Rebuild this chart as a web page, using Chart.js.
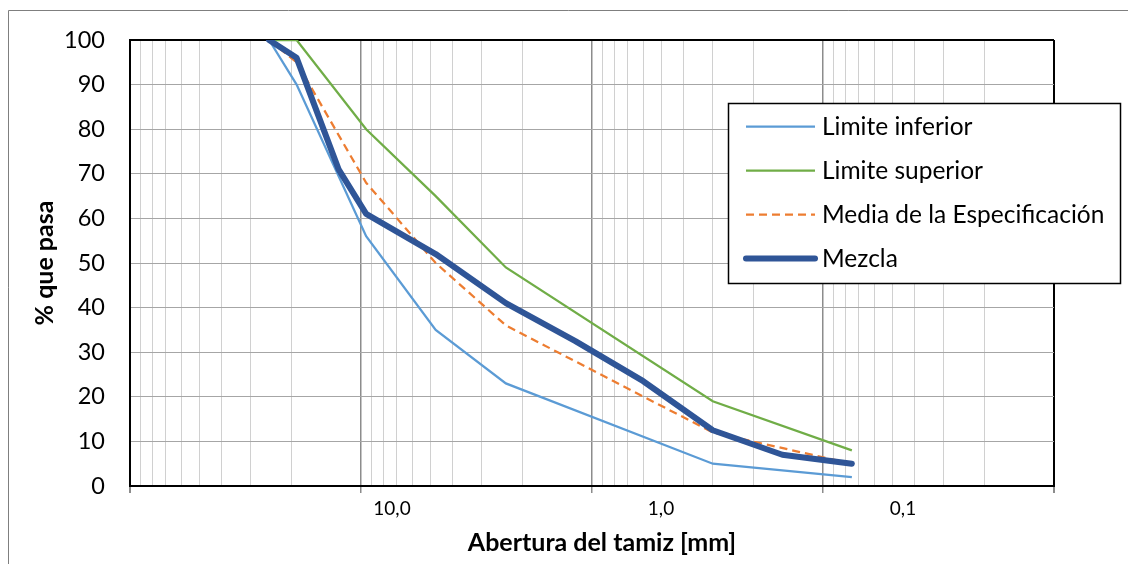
<!DOCTYPE html>
<html lang="es">
<head>
<meta charset="utf-8">
<title>Curva granulométrica</title>
<script src="https://cdn.jsdelivr.net/npm/chart.js@4.4.1/dist/chart.umd.min.js"></script>
<style>
  html, body { margin: 0; padding: 0; background: #fff; }
  canvas { display: block; }
</style>
</head>
<body>
<canvas id="curva" width="1128" height="564"></canvas>
<script>
// Aberturas de tamiz (mm) y porcentaje que pasa de cada serie
const tamices = [25, 19, 12.5, 9.5, 4.75, 2.36, 1.18, 0.6, 0.3, 0.15, 0.075];
const limiteInferior = [100, 90, null, 56, 35, 23, null, null, 5, null, 2];
const limiteSuperior = [100, 100, null, 80, 65, 49, null, null, 19, null, 8];
const mediaEspecificacion = [100, 95, null, 68, 50, 36, null, null, 12, null, 5];
const mezcla = [100, 96, 71, 61, 52, 41, 32.5, 23.5, 12.5, 7, 5];

// Rótulos del eje de aberturas
const valoresRotuloX = [10, 1, 0.1];
const textosRotuloX = ['10,0', '1,0', '0,1'];

// Décadas de la escala logarítmica (rejilla 1..9 por década)
const decadas = [0.01, 0.1, 1, 10];
const pasosDecada = [1, 2, 3, 4, 5, 6, 7, 8, 9];

const FUENTE = "Lato, 'Open Sans', 'Liberation Sans', sans-serif";

const casi = (a, b) => Math.abs(a - b) <= Math.abs(b) * 1e-6;
const esDecada = v => casi(Math.log10(v), Math.round(Math.log10(v)));

const valoresRejillaX = [];
decadas.forEach(d => pasosDecada.forEach(k => valoresRejillaX.push(+(d * k).toPrecision(6))));
valoresRejillaX.push(100);
valoresRejillaX.sort((a, b) => b - a);

const puntos = serie => tamices
  .map((t, i) => ({ x: t, y: serie[i] }))
  .filter(p => p.y !== null);

// Fondo blanco y marco exterior
const marco = {
  id: 'marco',
  beforeDraw(chart) {
    const ctx = chart.ctx;
    ctx.save();
    ctx.fillStyle = '#fff';
    ctx.fillRect(0, 0, chart.width, chart.height);
    ctx.strokeStyle = '#7f7f7f';
    ctx.lineWidth = 1;
    ctx.beginPath();
    ctx.moveTo(8.5, chart.height);
    ctx.lineTo(8.5, 10.5);
    ctx.lineTo(chart.width, 10.5);
    ctx.stroke();
    ctx.restore();
  }
};

// Corrimiento horizontal de los rótulos y del título del eje de aberturas
const corrimientoRotulos = {
  id: 'corrimientoRotulos',
  beforeDraw(chart, args, o) {
    const escala = chart.scales.x;
    escala.getLabelItems().forEach(item => {
      const dx = o.desplazamiento[item.label];
      if (dx && !item._corrido) {
        item.options.translation[0] += dx;
        item._corrido = true;
      }
    });
    if (!escala._tituloCorrido) {
      const dibujarTitulo = escala.drawTitle.bind(escala);
      escala.drawTitle = function () {
        const ctx = this.ctx;
        ctx.save();
        ctx.translate(o.tituloDx, 0);
        dibujarTitulo();
        ctx.restore();
      };
      escala._tituloCorrido = true;
    }
  }
};

// Leyenda en recuadro sobre el área de trazado
const leyenda = {
  id: 'leyendaRecuadro',
  afterDraw(chart, args, o) {
    const ctx = chart.ctx;
    ctx.save();
    ctx.fillStyle = '#fff';
    ctx.fillRect(o.x, o.y, o.w, o.h);
    ctx.strokeStyle = '#000';
    ctx.lineWidth = 1.5;
    ctx.strokeRect(o.x, o.y, o.w, o.h);
    chart.data.datasets.forEach((ds, i) => {
      const y = o.y + o.primeraFila + i * o.separacion;
      ctx.beginPath();
      ctx.moveTo(o.lineaDesde, y);
      ctx.lineTo(o.lineaHasta, y);
      ctx.strokeStyle = ds.borderColor;
      ctx.lineWidth = ds.borderWidth;
      ctx.lineCap = ds.borderCapStyle || 'butt';
      ctx.setLineDash(ds.borderDash || []);
      ctx.stroke();
      ctx.setLineDash([]);
      ctx.fillStyle = '#000';
      ctx.font = o.fuente;
      ctx.textAlign = 'left';
      ctx.textBaseline = 'middle';
      ctx.fillText(ds.label, o.textoX, y + 1);
    });
    ctx.restore();
  }
};

new Chart(document.getElementById('curva'), {
  type: 'scatter',
  data: {
    datasets: [
      {
        label: 'Limite inferior',
        data: puntos(limiteInferior),
        showLine: true,
        borderColor: '#5b9bd5',
        borderWidth: 2.25,
        pointRadius: 0,
        order: 4
      },
      {
        label: 'Limite superior',
        data: puntos(limiteSuperior),
        showLine: true,
        borderColor: '#70ad47',
        borderWidth: 2.25,
        pointRadius: 0,
        order: 3
      },
      {
        label: 'Media de la Especificación',
        data: puntos(mediaEspecificacion),
        showLine: true,
        borderColor: '#ed7d31',
        borderWidth: 2.25,
        borderDash: [8, 5],
        pointRadius: 0,
        order: 2
      },
      {
        label: 'Mezcla',
        data: puntos(mezcla),
        showLine: true,
        borderColor: '#2f5597',
        borderWidth: 6,
        borderCapStyle: 'round',
        borderJoinStyle: 'round',
        pointRadius: 0,
        order: 1
      }
    ]
  },
  options: {
    responsive: false,
    animation: false,
    events: [],
    layout: { padding: { top: 40, right: 74, left: 0, bottom: 0 } },
    plugins: {
      legend: { display: false },
      tooltip: { enabled: false },
      corrimientoRotulos: {
        desplazamiento: { '10,0': 31, '1,0': 69, '0,1': 80 },
        tituloDx: 10
      },
      leyendaRecuadro: {
        x: 728.5, y: 103.5, w: 392, h: 180,
        primeraFila: 23, separacion: 44,
        lineaDesde: 746, lineaHasta: 815, textoX: 822,
        fuente: "24.5px " + FUENTE
      }
    },
    scales: {
      x: {
        type: 'logarithmic',
        reverse: true,
        min: 0.01,
        max: 100,
        position: 'bottom',
        afterBuildTicks: scale => {
          scale.ticks = valoresRejillaX.map(v => ({ value: v, major: false }));
        },
        afterFit: scale => { scale.height = 78; },
        ticks: {
          autoSkip: false,
          maxRotation: 0,
          minRotation: 0,
          padding: 4,
          color: '#000',
          font: { family: FUENTE, size: 19 },
          callback: value => {
            const i = valoresRotuloX.findIndex(v => casi(value, v));
            return i >= 0 ? textosRotuloX[i] : '';
          }
        },
        grid: {
          drawTicks: true,
          tickLength: 7,
          color: c => {
            const v = c.tick.value;
            if (casi(v, 100) || casi(v, 0.01)) return '#000';
            return esDecada(v) ? '#8c8c8c' : '#d0d0d0';
          },
          lineWidth: c => {
            const v = c.tick.value;
            if (casi(v, 100) || casi(v, 0.01)) return 2;
            return esDecada(v) ? 1.5 : 1;
          },
          tickColor: c => esDecada(c.tick.value) ? '#8c8c8c' : 'rgba(0,0,0,0)'
        },
        border: { display: true, color: '#000', width: 2 },
        title: {
          display: true,
          text: 'Abertura del tamiz [mm]',
          color: '#000',
          font: { family: FUENTE, size: 25, weight: 'bold' },
          padding: { top: 0, bottom: 6 }
        }
      },
      y: {
        min: 0,
        max: 100,
        afterFit: scale => { scale.width = 130; },
        ticks: {
          stepSize: 10,
          padding: 25,
          color: '#000',
          font: { family: FUENTE, size: 23.5 }
        },
        grid: {
          drawTicks: false,
          color: c => c.tick.value === 100 ? '#000' : '#a6a6a6',
          lineWidth: c => c.tick.value === 100 ? 2 : 1
        },
        border: { display: true, color: '#000', width: 2 },
        title: {
          display: true,
          text: '% que pasa',
          color: '#000',
          font: { family: FUENTE, size: 25, weight: 'bold' },
          padding: { top: 30, bottom: 0 }
        }
      }
    }
  },
  plugins: [marco, corrimientoRotulos, leyenda]
});
</script>
</body>
</html>
